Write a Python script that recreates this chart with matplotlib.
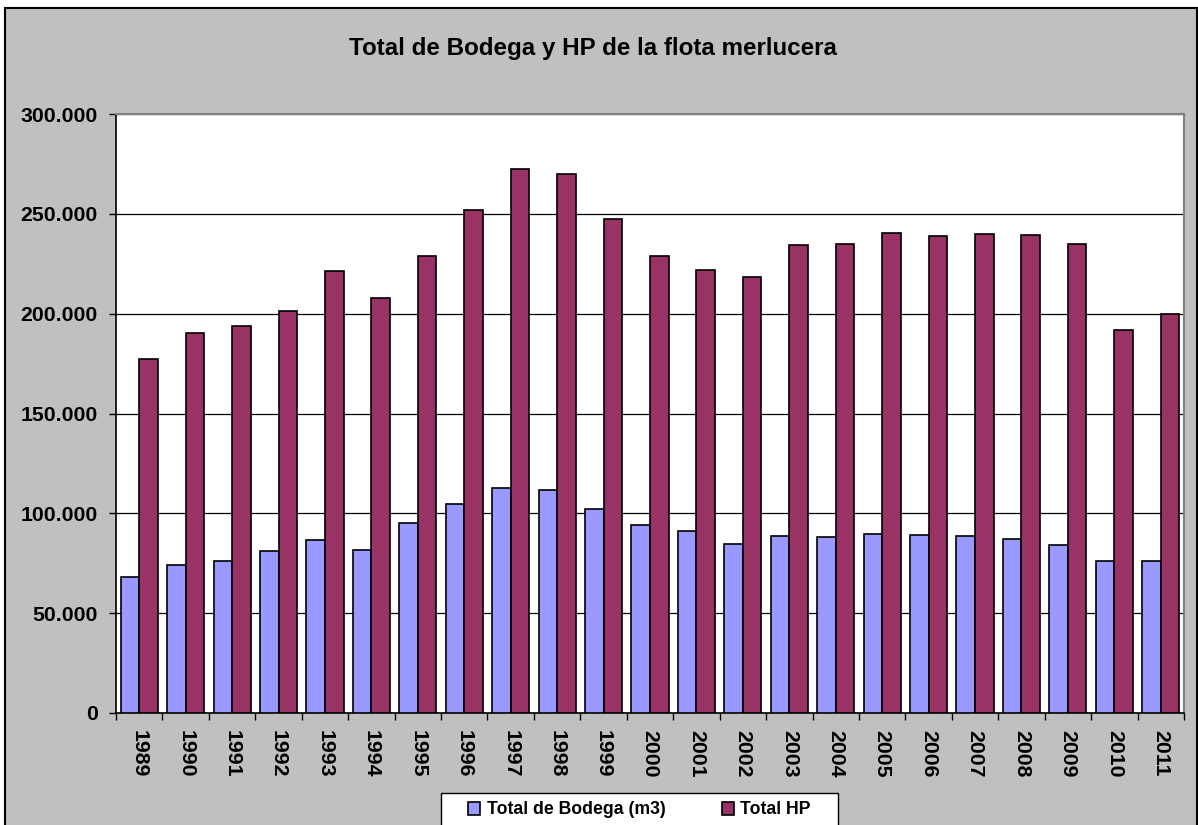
import numpy as np
import matplotlib.pyplot as plt
from matplotlib.patches import Rectangle
from matplotlib.ticker import FuncFormatter, FixedLocator

plt.rcParams['font.family'] = ['Liberation Sans', 'DejaVu Sans']
plt.rcParams['font.weight'] = 'bold'

years = [str(y) for y in range(1989, 2012)]
bodega = [68100, 74100, 76100, 81100, 86600, 81600, 95100, 104700, 112700, 111700,
          102200, 94100, 91100, 84600, 88600, 88100, 89600, 89100, 88600, 87100,
          84100, 76100, 76100]
hp = [177300, 190300, 193800, 201300, 221300, 207800, 228800, 251900, 272400, 269900,
      247400, 228800, 221800, 218300, 234400, 234900, 240400, 238900, 239900, 239400,
      234900, 191800, 199800]
series_names = ['Total de Bodega (m3)', 'Total HP']
title = 'Total de Bodega y HP de la flota merlucera'

W, H = 1198, 825
fig = plt.figure(figsize=(W / 100, H / 100), dpi=100)
fig.patch.set_facecolor('white')

# grey chart area with black frame
fig.patches.append(Rectangle((5 / W, -0.01), 1192 / W, 1 - 8 / H + 0.01,
                             transform=fig.transFigure, facecolor='#C0C0C0',
                             edgecolor='black', linewidth=1.5, zorder=-10))

ax = fig.add_axes([116 / W, 1 - 713 / H, 1068 / W, 599 / H])
ax.set_facecolor('white')

x = np.arange(len(years))
bw = 0.4
ax.bar(x - bw / 2, bodega, bw, color='#9999FF', edgecolor='black', linewidth=1.2,
       label=series_names[0], zorder=3)
ax.bar(x + bw / 2, hp, bw, color='#993366', edgecolor='black', linewidth=1.2,
       label=series_names[1], zorder=3)

ax.set_xlim(-0.5, len(years) - 0.5)
ax.set_ylim(0, 300000)
ax.set_yticks(np.arange(0, 300001, 50000))
ax.yaxis.set_major_formatter(FuncFormatter(lambda v, p: f'{v:,.0f}'.replace(',', '.')))
ax.yaxis.grid(True, color='black', linewidth=0.9, zorder=1)

ax.xaxis.set_major_locator(FixedLocator(np.arange(-0.5, len(years), 1.0)))
ax.xaxis.set_minor_locator(FixedLocator(x))
ax.set_xticklabels([], minor=False)
ax.set_xticklabels(years, minor=True, rotation=-90, fontsize=15.3, fontweight='bold')
ax.tick_params(axis='x', which='major', length=5, width=1, direction='out')
ax.tick_params(axis='x', which='minor', length=0, pad=12)
ax.tick_params(axis='y', length=5, width=1, direction='out', labelsize=15.3, pad=8)
for lab in ax.get_yticklabels():
    lab.set_fontweight('bold')

for s in ['left', 'bottom']:
    ax.spines[s].set_color('black')
    ax.spines[s].set_linewidth(1.2)
for s in ['top', 'right']:
    ax.spines[s].set_color('#808080')
    ax.spines[s].set_linewidth(1.5)

fig.text(593 / W, 1 - 48 / H, title, ha='center', va='center',
         fontsize=17.4, fontweight='bold')

# legend box (cut off by the bottom edge, like the reference)
fig.patches.append(Rectangle((441 / W, -0.01), 397 / W, 1 - 793 / H + 0.01,
                             transform=fig.transFigure, facecolor='white',
                             edgecolor='black', linewidth=1.0, zorder=-5))
leg = fig.legend(loc='center', bbox_to_anchor=(639.5 / W, 1 - 810 / H), ncol=2,
                 frameon=False, prop={'size': 12.7, 'weight': 'bold'},
                 handlelength=0.7, handleheight=0.7, handletextpad=0.35,
                 columnspacing=3.2)

fig.savefig('out.png', dpi=100)
